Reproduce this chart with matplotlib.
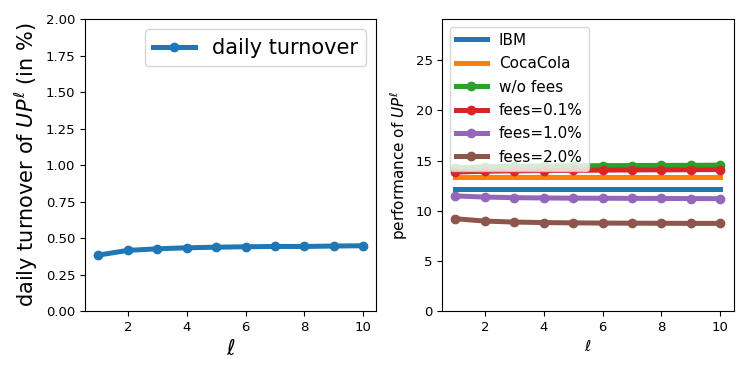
import matplotlib
matplotlib.use("Agg")
import matplotlib.pyplot as plt

ell = [1, 2, 3, 4, 5, 6, 7, 8, 9, 10]

turnover = [0.384, 0.416, 0.427, 0.434, 0.438, 0.441, 0.443, 0.443, 0.446, 0.448]

ibm = 12.2
cocacola = 13.35
wo_fees = [14.27, 14.38, 14.42, 14.45, 14.47, 14.49, 14.5, 14.51, 14.52, 14.54]
fees_01 = [13.85, 13.93, 13.97, 14.0, 14.02, 14.04, 14.06, 14.07, 14.08, 14.1]
fees_10 = [11.47, 11.36, 11.3, 11.27, 11.25, 11.24, 11.23, 11.22, 11.21, 11.2]
fees_20 = [9.2, 8.97, 8.87, 8.82, 8.79, 8.77, 8.76, 8.75, 8.74, 8.74]

fig = plt.figure(figsize=(7.47, 3.74), dpi=100)

#left panel
ax1 = fig.add_axes([0.114, 0.168, 0.39, 0.781])
ax1.plot(ell, turnover, marker='o', lw=3.6, ms=6, color='tab:blue', label='daily turnover')
ax1.set_ylim(0, 2)
ax1.set_xticks([2, 4, 6, 8, 10])
ax1.tick_params(labelsize=9.5)
ax1.set_ylabel(r'daily turnover of $UP^{\ell}$ (in %)', fontsize=15)
ax1.set_xlabel(r'$\ell$', fontsize=15)
ax1.legend(loc='upper right', fontsize=15)

#right panel
ax2 = fig.add_axes([0.592, 0.168, 0.39, 0.781])
ax2.plot(ell, [ibm] * len(ell), lw=3.6, color='tab:blue', label='IBM')
ax2.plot(ell, [cocacola] * len(ell), lw=3.6, color='tab:orange', label='CocaCola')
ax2.plot(ell, wo_fees, marker='o', lw=3.6, ms=6, color='tab:green', label='w/o fees')
ax2.plot(ell, fees_01, marker='o', lw=3.6, ms=6, color='tab:red', label='fees=0.1%')
ax2.plot(ell, fees_10, marker='o', lw=3.6, ms=6, color='tab:purple', label='fees=1.0%')
ax2.plot(ell, fees_20, marker='o', lw=3.6, ms=6, color='tab:brown', label='fees=2.0%')
ax2.set_ylim(0, 2 * max(wo_fees))
ax2.set_xticks([2, 4, 6, 8, 10])
ax2.tick_params(labelsize=9.5)
ax2.set_ylabel(r'performance of $UP^{\ell}$', fontsize=11)
ax2.set_xlabel(r'$\ell$', fontsize=11)
ax2.legend(loc='upper left', fontsize=11, labelspacing=0.55)

fig.savefig('out.png', dpi=100)
